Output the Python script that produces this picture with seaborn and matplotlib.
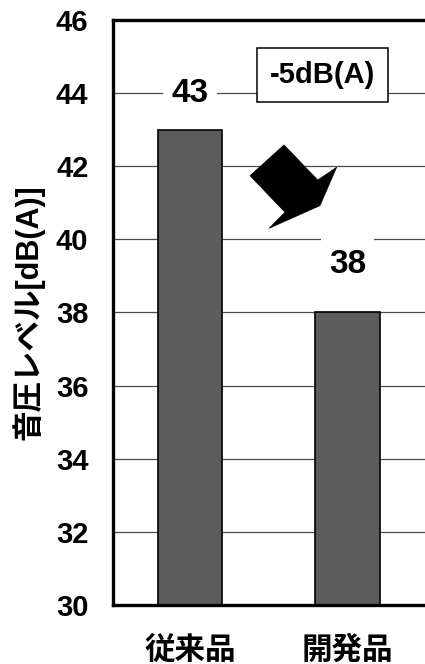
import matplotlib
matplotlib.use("Agg")
import matplotlib.pyplot as plt
import seaborn as sns
import pandas as pd
from matplotlib.patches import Polygon, Rectangle

# --- data ---
categories = ["従来品", "開発品"]
levels = [43, 38]
y_ticks = [30, 32, 34, 36, 38, 40, 42, 44, 46]
y_label = "音圧レベル[dB(A)]"
reduction_text = "-5dB(A)"

# --- style ---
sns.set_style("white")
plt.rcParams["font.family"] = ["Liberation Sans", "Noto Sans CJK JP"]
plt.rcParams["font.weight"] = "bold"
for key in ("text.color", "axes.labelcolor", "xtick.color", "ytick.color"):
    plt.rcParams[key] = "black"

df = pd.DataFrame({"product": categories, "level": levels})

fig = plt.figure(figsize=(4.25, 6.64), dpi=100)
ax = fig.add_axes([0.267, 0.089, 0.733, 0.881])

sns.barplot(data=df, x="product", y="level", order=categories,
            color="#5c5c5c", saturation=1, width=0.41,
            edgecolor="black", linewidth=1.2, ax=ax, zorder=2)

ax.set_ylim(y_ticks[0], y_ticks[-1])
ax.set_xlim(-0.486, 1.492)
ax.set_yticks(y_ticks)
ax.set_axisbelow(True)
ax.yaxis.grid(True, color="#4a4a4a", linewidth=0.9)
ax.xaxis.grid(False)

for side in ("left", "bottom", "top"):
    ax.spines[side].set_visible(True)
    ax.spines[side].set_linewidth(2.4)
    ax.spines[side].set_color("black")
ax.spines["right"].set_visible(False)

ax.tick_params(axis="y", length=0, pad=18, labelsize=21)
ax.tick_params(axis="x", length=0, pad=22, labelsize=22)
ax.set_xlabel("")
ax.set_ylabel(y_label, fontsize=22, fontweight="bold", labelpad=8)

# value labels with white backing that interrupts the grid lines
label_offsets = [1.0, 1.3]
for i, (v, off) in enumerate(zip(levels, label_offsets)):
    ly = v + off
    ax.add_patch(Rectangle((i - 0.17, ly - 0.8), 0.34, 1.6,
                           facecolor="white", edgecolor="none", zorder=1))
    ax.text(i, ly, f"{v}", ha="center", va="center",
            fontsize=24, fontweight="bold", zorder=3)

# reduction callout
ax.text(0.841, 44.5, reduction_text, ha="center", va="center", fontsize=21,
        fontweight="bold", zorder=3,
        bbox=dict(boxstyle="square,pad=0.45", facecolor="white",
                  edgecolor="black", linewidth=1.1))

# block arrow pointing down toward the lower bar
arrow_shape = [(0.597, 42.58), (0.811, 41.62), (0.931, 41.97), (0.825, 40.92),
               (0.502, 40.30), (0.603, 40.74), (0.381, 41.74)]
ax.add_patch(Polygon(arrow_shape, closed=True, facecolor="black",
                     edgecolor="black", linewidth=0.5, zorder=3))

fig.savefig("out.png", dpi=100)
